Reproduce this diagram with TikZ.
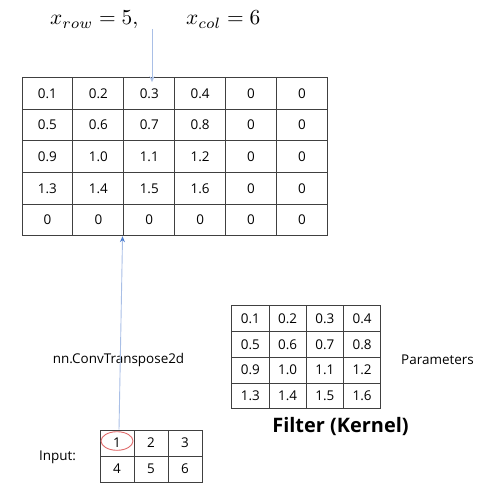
\documentclass[tikz,border=0pt]{standalone}
\usepackage{graphicx}
\usepackage{fontspec}
\setmainfont{Open Sans}
\usetikzlibrary{arrows.meta}
\definecolor{paleblue}{HTML}{A9BFE6}
\definecolor{tipblue}{HTML}{4F7FD0}
\definecolor{ringred}{HTML}{E06A6A}
\begin{document}
\begin{tikzpicture}[x=1bp,y=-1bp,
  every node/.style={font=\fontsize{13.5}{15}\selectfont},
  cellbox/.style={draw=black!75,line width=0.9bp,inner sep=0pt,anchor=center},
  outcell/.style={cellbox,minimum width=50.9bp,minimum height=31.6bp},
  kercell/.style={cellbox,minimum width=37.25bp,minimum height=25.8bp},
  incell/.style={cellbox,minimum width=34bp,minimum height=26bp},
  flowdown/.style={paleblue,line width=0.9bp,-{Stealth[length=6bp,width=5bp]}},
  flowup/.style={paleblue,line width=0.9bp,-{Stealth[length=6bp,width=5bp,color=tipblue]}}]
  \useasboundingbox (0,0) rectangle (486,491);
  % title
  \node[anchor=base west,font=\normalsize,inner sep=0pt] (titlerow) at (50,25) {\scalebox{2.15}{$x_{row}=5,$}};
  \node[anchor=base west,font=\normalsize,inner sep=0pt] (titlecol) at (186,25) {\scalebox{2.15}{$x_{col}=6$}};
  % output of the transposed convolution
  \foreach \vals [count=\r] in {{0.1,0.2,0.3,0.4,0,0},{0.5,0.6,0.7,0.8,0,0},{0.9,1.0,1.1,1.2,0,0},{1.3,1.4,1.5,1.6,0,0},{0,0,0,0,0,0}}
    \foreach \v [count=\c] in \vals
      \node[outcell] (out-\r-\c) at ({22+50.9*(\c-0.5)},{77.7+31.6*(\r-0.5)}) {\v};
  % filter
  \foreach \vals [count=\r] in {{0.1,0.2,0.3,0.4},{0.5,0.6,0.7,0.8},{0.9,1.0,1.1,1.2},{1.3,1.4,1.5,1.6}}
    \foreach \v [count=\c] in \vals
      \node[kercell] (ker-\r-\c) at ({231.7+37.25*(\c-0.5)},{305.7+25.8*(\r-0.5)}) {\v};
  % input
  \foreach \vals [count=\r] in {{1,2,3},{4,5,6}}
    \foreach \v [count=\c] in \vals
      \node[incell] (in-\r-\c) at ({100+34*(\c-0.5)},{430+26*(\r-0.5)}) {\v};
  \draw[ringred,line width=0.9bp] ([yshift=2bp]in-1-1.center) ellipse (16bp and 9.3bp);
  % labels
  \node (convname) at (118.5,360) {nn.ConvTranspose2d};
  \node (inname) at (57.5,457) {Input:};
  \node (kername) at (437.5,360) {Parameters};
  \node[font=\fontsize{20}{22}\selectfont\bfseries] (kertitle) at (340.5,427) {Filter (Kernel)};
  % arrows
  \coordinate (dropstart) at (152,29);
  \draw[flowdown] (dropstart) -- ([yshift=-5bp]dropstart |- out-1-3.north);
  \draw[flowup] ([xshift=2bp]in-1-1.north) -- ([xshift=-0.8bp]out-5-3.south west);
\end{tikzpicture}
\end{document}
